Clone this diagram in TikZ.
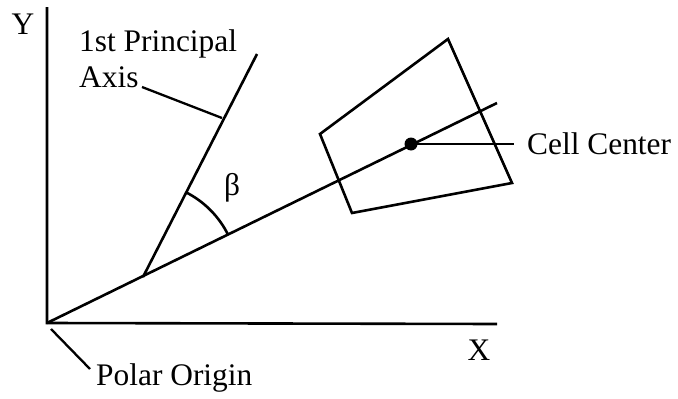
\documentclass[tikz,border=0pt]{standalone}
\usepackage{fontspec}
\setmainfont{Liberation Serif}
\begin{document}
\begin{tikzpicture}[x=1pt,y=-1pt,
  ln/.style={line width=2.6pt},
  lbl/.style={inner sep=0pt,font=\fontsize{31.4}{36}\selectfont}]
\useasboundingbox (0,0) rectangle (678,399);
% key points
\coordinate (O) at (47,323);
\coordinate (Ytop) at (47,7);
\coordinate (Xend) at (497,324);
\coordinate (Pend) at (497,103);
\coordinate (A0) at (143,277);
\coordinate (A1) at (257,54);
\coordinate (Aleg) at (222,118);
\coordinate (C) at (411,144);
\coordinate (Cleg) at (514,144);
\coordinate (Oleg) at (51,329);
\coordinate (Otx) at (90,369);
\coordinate (Q1) at (448,39);
\coordinate (Q2) at (320,134);
\coordinate (Q3) at (352,213);
\coordinate (Q4) at (512,183);
% axes
\draw[ln] (Ytop) -- (O) -- (Xend);
\draw[ln] (O) -- (Pend);
\draw[ln] (A0) -- (A1);
% cell
\draw[ln,line join=miter] (Q1) -- (Q2) -- (Q3) -- (Q4) -- cycle;
\fill (C) circle (6.5);
% angle arc
\draw[ln] (A0) ++(-63.4:95) arc[start angle=-63.4,end angle=-26,radius=95];
% labels
\node[lbl] (ylab) at (23,24) {Y};
\node[lbl] (xlab) at (479,350) {X};
\node[lbl] (beta) at (232,188) {β};
\node[lbl,anchor=west,align=left] (axlab) at (79,59) {1st Principal\\Axis};
\node[lbl,anchor=west] (cclab) at (527,144) {Cell Center};
\node[lbl,anchor=west] (polab) at (96,378) {Polar Origin};
% leaders
\draw[line width=2.3pt] (142,87) -- (Aleg);
\draw[line width=2.3pt] (C) -- (Cleg);
\draw[line width=2.3pt] (Oleg) -- (Otx);
\end{tikzpicture}
\end{document}
